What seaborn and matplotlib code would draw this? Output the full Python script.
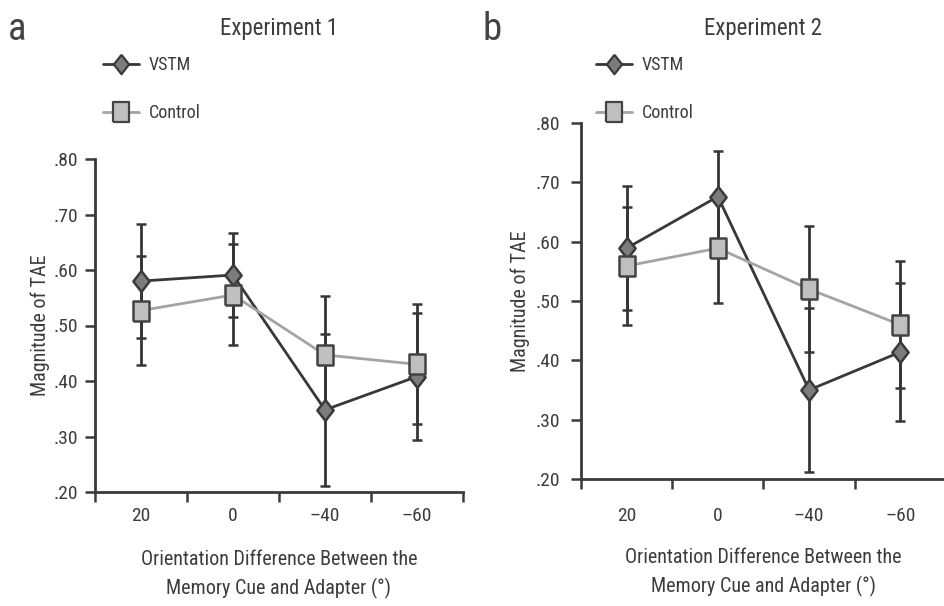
import matplotlib
matplotlib.use("Agg")
import matplotlib.pyplot as plt
from matplotlib import font_manager
from matplotlib.lines import Line2D
from matplotlib.ticker import FixedLocator
import seaborn as sns
import pandas as pd

# ---------------- data ----------------
categories = ["20", "0", "\u201340", "\u201360"]
series = ["VSTM", "Control"]

exp1_vstm = [0.580, 0.591, 0.348, 0.408]
exp1_vstm_err = [0.103, 0.075, 0.137, 0.115]
exp1_ctrl = [0.527, 0.555, 0.447, 0.430]
exp1_ctrl_err = [0.098, 0.091, 0.107, 0.108]

exp2_vstm = [0.589, 0.676, 0.350, 0.414]
exp2_vstm_err = [0.104, 0.076, 0.139, 0.116]
exp2_ctrl = [0.559, 0.589, 0.520, 0.460]
exp2_ctrl_err = [0.099, 0.092, 0.106, 0.107]

ytick_vals = [0.20, 0.30, 0.40, 0.50, 0.60, 0.70, 0.80]
ytick_labels = [".20", ".30", ".40", ".50", ".60", ".70", ".80"]

titles = ["Experiment 1", "Experiment 2"]
panel_letters = ["a", "b"]
ylabel = "Magnitude of TAE"
xlabel = "Orientation Difference Between the\nMemory Cue and Adapter (\u00b0)"

# ---------------- style ----------------
sns.set_theme(style="white")
names = {f.name for f in font_manager.fontManager.ttflist}
FONT = "DejaVu Sans"
for cand in ["Roboto Condensed", "Archivo Narrow", "Asap Condensed", "Barlow Semi Condensed",
             "Liberation Sans Narrow"]:
    if cand in names:
        FONT = cand
        break
plt.rcParams["font.family"] = [FONT, "DejaVu Sans"]

TXT = "#3c3c3c"
AX = "#3a3a3a"
# slightly tall markers (the reference is horizontally compressed)
DIAMOND = [(0, 1), (0.78, 0), (0, -1), (-0.78, 0), (0, 1)]
SQUARE = [(-0.8, -1), (0.8, -1), (0.8, 1), (-0.8, 1), (-0.8, -1)]
styles = {
    "VSTM": dict(marker=DIAMOND, line="#383838", face="#7c7c7c", edge="#3a3a3a", ms=15),
    "Control": dict(marker=SQUARE, line="#a4a4a4", face="#bfbfbf", edge="#434343", ms=15),
}

def make_df(vs, vse, cs, cse):
    rows = []
    for i, c in enumerate(categories):
        rows.append(dict(pos=i, cat=c, series="VSTM", val=vs[i], err=vse[i]))
        rows.append(dict(pos=i, cat=c, series="Control", val=cs[i], err=cse[i]))
    return pd.DataFrame(rows)

dfs = [make_df(exp1_vstm, exp1_vstm_err, exp1_ctrl, exp1_ctrl_err),
       make_df(exp2_vstm, exp2_vstm_err, exp2_ctrl, exp2_ctrl_err)]

W, H = 945, 606
fig = plt.figure(figsize=(W / 100, H / 100), dpi=100)

# axes rectangles in pixels: (left, top, right, bottom)
rects = [(95, 159, 463, 492), (581, 123, 946, 479)]
legend_px = [(103, 89), (596, 89)]
letter_px = [(8, 30), (483, 30)]
xtick_pad = [11, 20]
xlabel_pad = [18, 17]
ytick_pad = [5, 8]
ylabel_pad = [3, 4]

for k in range(2):
    l, t, r, b = rects[k]
    ax = fig.add_axes([l / W, 1 - b / H, (r - l) / W, (b - t) / H])
    df = dfs[k]
    for s in series:
        sub = df[df.series == s]
        ax.errorbar(sub.pos, sub.val, yerr=sub.err, fmt="none", ecolor="#353535",
                    elinewidth=2.0, capsize=3.5, capthick=1.8, zorder=2)
    for s in series:
        st = styles[s]
        sub = df[df.series == s]
        sns.lineplot(data=sub, x="pos", y="val", ax=ax, color=st["line"],
                     linewidth=2.0, marker=st["marker"], markersize=st["ms"],
                     markerfacecolor=st["face"], markeredgecolor=st["edge"],
                     markeredgewidth=1.8, errorbar=None, zorder=3, legend=False)
    ax.set_xlim(-0.5, 3.5)
    ax.set_ylim(0.20, 0.80)
    ax.set_xticks(range(len(categories)))
    ax.set_xticklabels(categories, fontsize=14, color=TXT)
    ax.xaxis.set_minor_locator(FixedLocator([-0.5, 0.5, 1.5, 2.5, 3.5]))
    ax.tick_params(axis="x", which="major", length=0, pad=xtick_pad[k])
    ax.tick_params(axis="x", which="minor", length=7, width=1.8, color=AX, direction="out", bottom=True)
    ax.set_yticks(ytick_vals)
    ax.set_yticklabels(ytick_labels, fontsize=14, color=TXT)
    ax.tick_params(axis="y", which="major", length=7, width=1.8, color=AX, direction="out",
                   left=True, pad=ytick_pad[k])
    for sp in ["top", "right"]:
        ax.spines[sp].set_visible(False)
    for sp in ["left", "bottom"]:
        ax.spines[sp].set_color(AX)
        ax.spines[sp].set_linewidth(2.0)
    ax.set_xlabel(xlabel, fontsize=14.5, color=TXT, labelpad=xlabel_pad[k], linespacing=1.5)
    ax.set_ylabel(ylabel, fontsize=14.5, color=TXT, labelpad=ylabel_pad[k])

    cx = (l + r) / 2 / W
    fig.text(cx, 1 - 28 / H, titles[k], fontsize=16.5, color=TXT, ha="center", va="center")
    fig.text(letter_px[k][0] / W, 1 - letter_px[k][1] / H, panel_letters[k], fontsize=28,
             color="#444444", ha="left", va="center")

    handles = [Line2D([], [], color=styles[s]["line"], linewidth=2.0, marker=styles[s]["marker"],
                      markersize=14, markerfacecolor=styles[s]["face"],
                      markeredgecolor=styles[s]["edge"], markeredgewidth=1.6) for s in series]
    lx, ly = legend_px[k]
    fig.legend(handles, series, loc="center left", bbox_to_anchor=(lx / W, 1 - ly / H),
               frameon=False, fontsize=13, handlelength=2.0, handletextpad=0.55,
               labelspacing=1.65, borderpad=0, borderaxespad=0, labelcolor=TXT)

fig.savefig("out.png", dpi=100)
